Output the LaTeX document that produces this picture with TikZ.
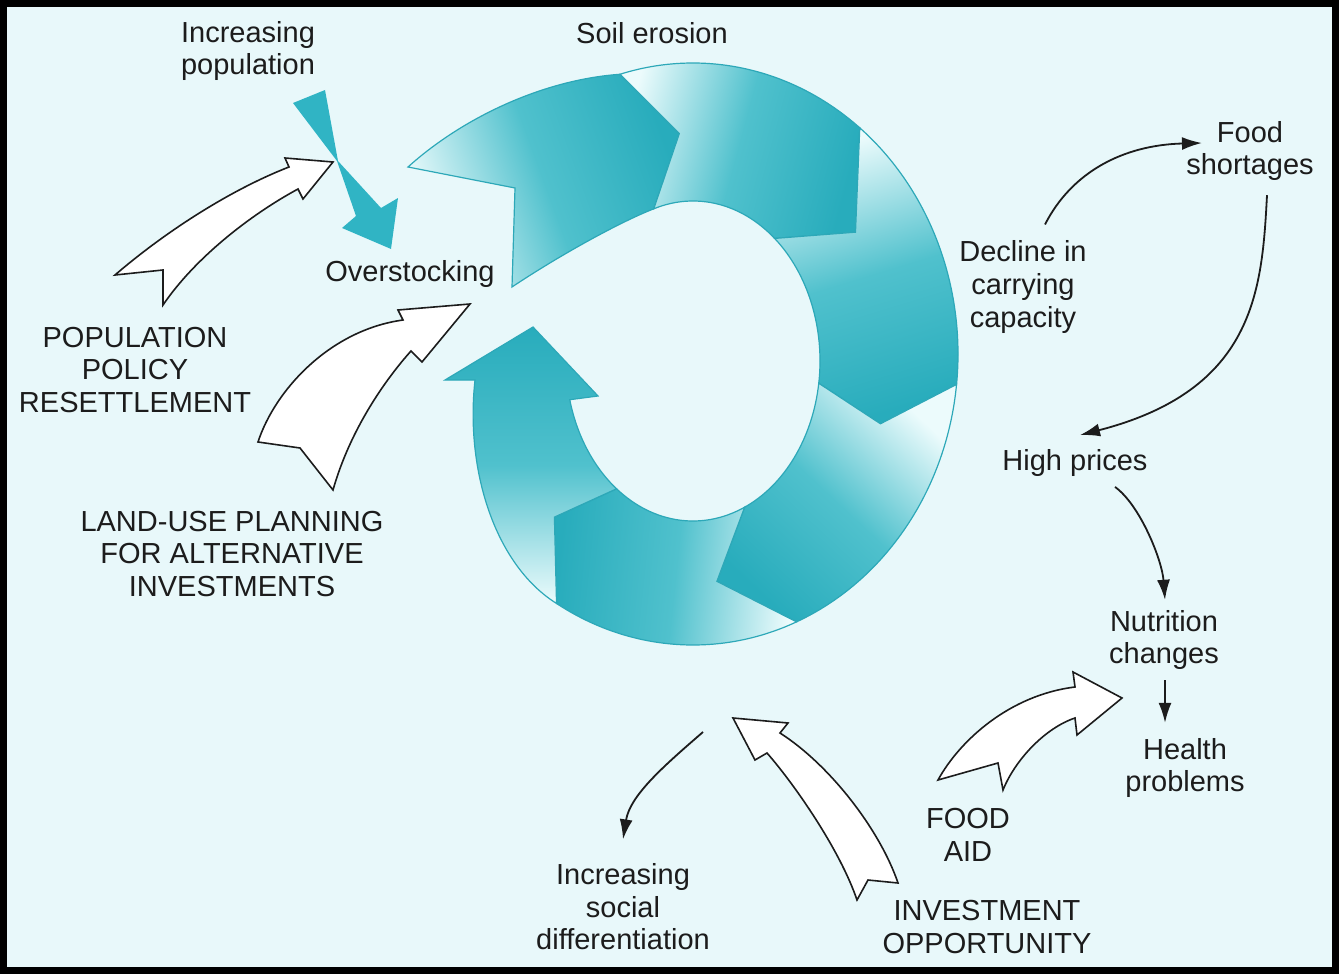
\documentclass[tikz,border=0pt]{standalone}
\usepackage{fontspec}
\setmainfont{Liberation Sans}
\usetikzlibrary{arrows.meta,calc}
\definecolor{paper}{RGB}{232,248,250}
\definecolor{inkcol}{RGB}{28,28,28}
\definecolor{ringline}{RGB}{45,168,184}
\definecolor{ringdark}{RGB}{40,172,188}
\definecolor{ringmid}{RGB}{80,193,205}
\definecolor{ringlight}{RGB}{236,251,252}
\definecolor{popteal}{RGB}{48,180,196}

\begin{document}
\begin{tikzpicture}[x=0.5pt,y=-0.5pt,
	txt/.style={align=center,inner sep=0pt,text=inkcol,font=\fontsize{14.5}{16.3}\selectfont},
	flow/.style={draw=inkcol,line width=0.9pt,-{Latex[length=10pt,width=6.5pt]}},
	blockarr/.style={draw=inkcol,fill=white,line width=0.8pt,line join=miter},
	seg/.style={draw=ringline,line width=0.6pt}]
	% Frame
	\useasboundingbox (0,0) rectangle (1339,974);
	\fill[paper] (0,0) rectangle (1339,974);
	\draw[line width=3.5pt] (3.5,3.5) rectangle (1335.5,970.5);

	% Labels
	\node[txt] (incpop) at (248,51) {Increasing\\population};
	\node[txt] (soil) at (652,33) {Soil erosion};
	\node[txt] (over) at (410,274) {Overstocking};
	\node[txt] (popol) at (135,370) {POPULATION\\POLICY\\RESETTLEMENT};
	\node[txt] (landuse) at (232,554) {LAND-USE PLANNING\\FOR ALTERNATIVE\\INVESTMENTS};
	\node[txt] (food) at (1250,151) {Food\\shortages};
	\node[txt] (decline) at (1023,287) {Decline in\\carrying\\capacity};
	\node[txt] (high) at (1075,463) {High prices};
	\node[txt] (nutr) at (1164,640) {Nutrition\\changes};
	\node[txt] (health) at (1185,768) {Health\\problems};
	\node[txt] (foodaid) at (968,835) {FOOD\\AID};
	\node[txt] (invest) at (987,927) {INVESTMENT\\OPPORTUNITY};
	\node[txt] (social) at (623,907) {Increasing\\social\\differentiation};

	% Ring, six chevron segments running clockwise
	\coordinate (co) at (693,354);
	\coordinate (ci) at (693,361);
	\coordinate (cm) at (693,358);
	\shade[seg,bottom color=ringlight,top color=ringdark,middle color=ringmid,shading angle=-70]
		(408,167) .. controls (460,120) and (540,80) .. ($(co)+(254:265 and 291)$)
		-- ($(cm)+(266:196 and 225)$) -- ($(ci)+(252:127 and 160)$)
		.. controls (620,222) and (560,255) .. (512,287) -- (515,188) -- cycle;
	\shade[seg,bottom color=ringlight,top color=ringdark,middle color=ringmid,shading angle=-105]
		($(co)+(254:265 and 291)$) arc[start angle=254,end angle=309,x radius=265,y radius=291]
		-- ($(cm)+(326:196 and 225)$) -- ($(ci)+(310:127 and 160)$)
		arc[start angle=310,end angle=252,x radius=127,y radius=160]
		-- ($(cm)+(266:196 and 225)$) -- cycle;
	\shade[seg,bottom color=ringlight,top color=ringdark,middle color=ringmid,shading angle=-163]
		($(co)+(309:265 and 291)$) arc[start angle=309,end angle=366,x radius=265,y radius=291]
		-- ($(cm)+(377:196 and 225)$) -- ($(ci)+(368:127 and 160)$)
		arc[start angle=368,end angle=310,x radius=127,y radius=160]
		-- ($(cm)+(326:196 and 225)$) -- cycle;
	\shade[seg,bottom color=ringlight,top color=ringdark,middle color=ringmid,shading angle=137]
		($(co)+(6:265 and 291)$) arc[start angle=6,end angle=67,x radius=265,y radius=291]
		-- ($(cm)+(83:196 and 225)$) -- ($(ci)+(66:127 and 160)$)
		arc[start angle=66,end angle=8,x radius=127,y radius=160]
		-- ($(cm)+(17:196 and 225)$) -- cycle;
	\shade[seg,bottom color=ringlight,top color=ringdark,middle color=ringmid,shading angle=84]
		($(co)+(67:265 and 291)$) arc[start angle=67,end angle=121,x radius=265,y radius=291]
		-- ($(cm)+(135:196 and 225)$) -- ($(ci)+(127:127 and 160)$)
		arc[start angle=127,end angle=66,x radius=127,y radius=160]
		-- ($(cm)+(83:196 and 225)$) -- cycle;
	\shade[seg,bottom color=ringlight,top color=ringdark,middle color=ringmid,shading angle=0]
		($(co)+(121:265 and 291)$) .. controls (495,565) and (465,470) .. (475,380)
		-- (445,380) -- (533,327) -- (598,396) -- ($(ci)+(166:127 and 160)$)
		arc[start angle=166,end angle=127,x radius=127,y radius=160]
		-- ($(cm)+(135:196 and 225)$) -- cycle;

	% Increasing population arrow
	\fill[popteal] (293,103) -- (325,90) -- (338,161) -- (381,208) -- (398,198) -- (391,249)
		-- (342,228) -- (356,216) -- (337,161) -- cycle;

	% Policy arrows
	\draw[blockarr] (115,275) .. controls (165,232) and (230,190) .. (289,167) -- (285,158) -- (333,162)
		-- (303,199) -- (298,189) .. controls (250,215) and (195,258) .. (163,305) -- (163,270) -- cycle;
	\draw[blockarr] (258,442) .. controls (275,390) and (330,330) .. (403,320) -- (398,310) -- (470,304)
		-- (422,362) -- (411,351) .. controls (385,380) and (350,430) .. (333,490) -- (300,448) -- cycle;
	\draw[blockarr] (938,780) .. controls (960,740) and (1010,695) .. (1075,687) -- (1073,672) -- (1122,698)
		-- (1077,735) -- (1075,718) .. controls (1045,728) and (1015,760) .. (1003,790) -- (998,763) -- cycle;
	\draw[blockarr] (898,883) .. controls (880,830) and (830,765) .. (780,733) -- (788,723) -- (733,718)
		-- (755,760) -- (767,753) .. controls (795,785) and (840,850) .. (857,900) -- (868,880) -- cycle;

	% Consequences
	\draw[flow] ([shift={(22,-16)}]decline.north) .. controls +(27,-53) and +(-78,2) .. ([shift={(16,-8)}]food.west);
	\draw[flow] ([shift={(17,14)}]food.south) .. controls +(-5,95) and +(175,-45) .. ([shift={(5,-14)}]high.north);
	\draw[flow] ([shift={(40,10)}]high.south) .. controls +(25,18) and +(-3,-40) .. ([shift={(1,-10)}]nutr.north);
	\draw[flow] ([shift={(1,10)}]nutr.south) -- ([shift={(-20,-15)}]health.north);
	\coordinate (socfrom) at (703,732);
	\draw[flow] (socfrom) .. controls (665,765) and (630,795) .. ([yshift=12pt]social.north);
\end{tikzpicture}
\end{document}
